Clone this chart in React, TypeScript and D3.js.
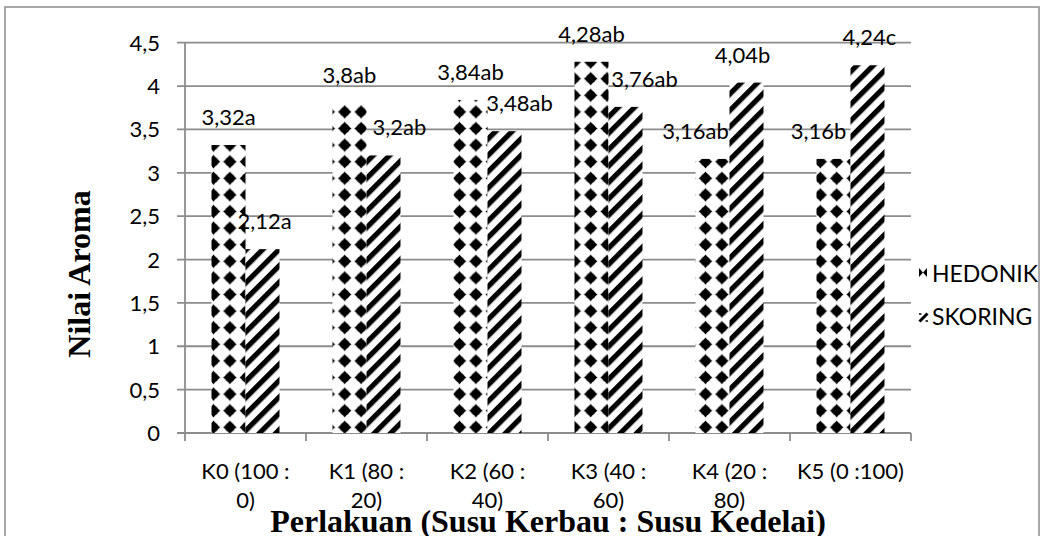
import * as d3 from 'd3';

const categories = ['K0', 'K1', 'K2', 'K3', 'K4', 'K5'];
const categoryLines = [
    ['K0 (100 :', '0)'],
    ['K1 (80 :', '20)'],
    ['K2 (60 :', '40)'],
    ['K3 (40 :', '60)'],
    ['K4 (20 :', '80)'],
    ['K5 (0 :100)', ''],
];
const hedonik = [3.32, 3.8, 3.84, 4.28, 3.16, 3.16];
const skoring = [2.12, 3.2, 3.48, 3.76, 4.04, 4.24];
const hedonikLabels = ['3,32a', '3,8ab', '3,84ab', '4,28ab', '3,16ab', '3,16b'];
const skoringLabels = ['2,12a', '3,2ab', '3,48ab', '3,76ab', '4,04b', '4,24c'];
const yTicks = [0, 0.5, 1, 1.5, 2, 2.5, 3, 3.5, 4, 4.5];

// labels were dragged a bit in the original to avoid overlapping
const hedonikNudge = [0, 0, 0, 0, -17, -15];
const skoringNudge = [2, 16, 15, 19, -4, 2];

const W = 1046;
const H = 536;
const plot = { left: 185, right: 911, top: 42.7, bottom: 433 };
const labelFont = 'Lato, "Open Sans", sans-serif';
const titleFont = '"Liberation Serif", "Times New Roman", serif';
const grid = '#8c8c8c';

export default function App() {
    const x = d3.scaleBand<string>().domain(categories).range([plot.left, plot.right]);
    const inner = d3
        .scaleBand<string>()
        .domain(['h', 's'])
        .range([0, x.bandwidth()])
        .paddingOuter(0.78)
        .paddingInner(0);
    const y = d3.scaleLinear().domain([0, 4.5]).range([plot.bottom, plot.top]);
    const fmt = (v: number) => String(v).replace('.', ',');

    const series = [
        { key: 'h', values: hedonik, labels: hedonikLabels, nudge: hedonikNudge, fill: 'url(#dots)' },
        { key: 's', values: skoring, labels: skoringLabels, nudge: skoringNudge, fill: 'url(#stripes)' },
    ];

    return (
        <svg
            width={W}
            height={H}
            viewBox={`0 0 ${W} ${H}`}
            style={{ position: 'absolute', left: 0, top: 0, background: '#fff' }}
        >
            <defs>
                <pattern id="dots" patternUnits="userSpaceOnUse" width={16.4} height={16.6} x={8.5} y={4}>
                    <rect width={16.4} height={16.6} fill="#fff" />
                    <path
                        d="M8.2,1.4 L11.2,5.3 L15,8.3 L11.2,11.3 L8.2,15.2 L5.2,11.3 L1.4,8.3 L5.2,5.3 Z"
                        fill="#000"
                    />
                    <circle cx={8.2} cy={8.3} r={4.9} fill="#000" />
                </pattern>
                <pattern
                    id="stripes"
                    patternUnits="userSpaceOnUse"
                    width={11.6}
                    height={11.6}
                    patternTransform="rotate(45)"
                >
                    <rect width={11.6} height={11.6} fill="#fff" />
                    <rect width={5.2} height={11.6} fill="#000" />
                </pattern>
            </defs>

            <rect x={5} y={7} width={1034} height={540} fill="none" stroke={grid} strokeWidth={1.5} />

            {/* grid + y axis */}
            {yTicks.map((t) => (
                <g key={t}>
                    <line
                        x1={plot.left - 8}
                        x2={plot.right}
                        y1={y(t)}
                        y2={y(t)}
                        stroke={grid}
                        strokeWidth={1.8}
                    />
                    <text
                        x={160}
                        y={y(t) + 8}
                        textAnchor="end"
                        fontFamily={labelFont}
                        fontSize={22}
                        fill="#000"
                    >
                        {fmt(t)}
                    </text>
                </g>
            ))}
            <line
                x1={plot.left}
                x2={plot.left}
                y1={plot.top}
                y2={plot.bottom + 8}
                stroke={grid}
                strokeWidth={1.8}
            />

            {/* category ticks */}
            {categories.map((c) => (
                <line
                    key={c}
                    x1={(x(c) ?? 0) + x.bandwidth()}
                    x2={(x(c) ?? 0) + x.bandwidth()}
                    y1={plot.bottom}
                    y2={plot.bottom + 8}
                    stroke={grid}
                    strokeWidth={1.8}
                />
            ))}

            {/* bars */}
            {series.map((s) =>
                categories.map((c, i) => {
                    const bx = (x(c) ?? 0) + (inner(s.key) ?? 0);
                    const by = y(s.values[i]);
                    return (
                        <rect
                            key={s.key + c}
                            x={bx}
                            y={by}
                            width={inner.bandwidth()}
                            height={plot.bottom - by}
                            fill={s.fill}
                        />
                    );
                })
            )}

            {/* data labels */}
            {series.map((s) =>
                categories.map((c, i) => {
                    const bx = (x(c) ?? 0) + (inner(s.key) ?? 0);
                    const by = y(s.values[i]);
                    return (
                        <text
                            key={'l' + s.key + c}
                            x={bx + inner.bandwidth() / 2 + s.nudge[i]}
                            y={by - 20}
                            textAnchor="middle"
                            fontFamily={labelFont}
                            fontSize={22}
                            fill="#000"
                        >
                            {s.labels[i]}
                        </text>
                    );
                })
            )}

            {/* x tick labels */}
            {categories.map((c, i) => {
                const cx = (x(c) ?? 0) + x.bandwidth() / 2;
                return (
                    <text key={c} textAnchor="middle" fontFamily={labelFont} fontSize={22} fill="#000">
                        <tspan x={cx} y={479}>
                            {categoryLines[i][0]}
                        </tspan>
                        <tspan x={cx} y={508}>
                            {categoryLines[i][1]}
                        </tspan>
                    </text>
                );
            })}

            {/* titles */}
            <text
                x={548}
                y={532}
                textAnchor="middle"
                fontFamily={titleFont}
                fontWeight="bold"
                fontSize={32}
                fill="#000"
            >
                Perlakuan (Susu Kerbau : Susu Kedelai)
            </text>
            <text
                transform="translate(90, 274) rotate(-90)"
                textAnchor="middle"
                fontFamily={titleFont}
                fontWeight="bold"
                fontSize={32}
                fill="#000"
            >
                Nilai Aroma
            </text>

            {/* legend */}
            <g fontFamily={labelFont} fontSize={23} fill="#000">
                <path d="M919,268 L923,272.5 L919,277 Z M927,268 L923,272.5 L927,277 Z" fill="#000" />
                <text x={932} y={282}>
                    HEDONIK
                </text>
                <g transform="translate(919, 313)">
                    <rect width={9} height={9} fill="#fff" />
                    <path d="M0.5,8.5 L8.5,0.5" stroke="#000" strokeWidth={3} />
                    <path d="M0,1 L2.5,1 M6.5,8 L9,8" stroke="#000" strokeWidth={1.5} />
                </g>
                <text x={932} y={325}>
                    SKORING
                </text>
            </g>
        </svg>
    );
}
